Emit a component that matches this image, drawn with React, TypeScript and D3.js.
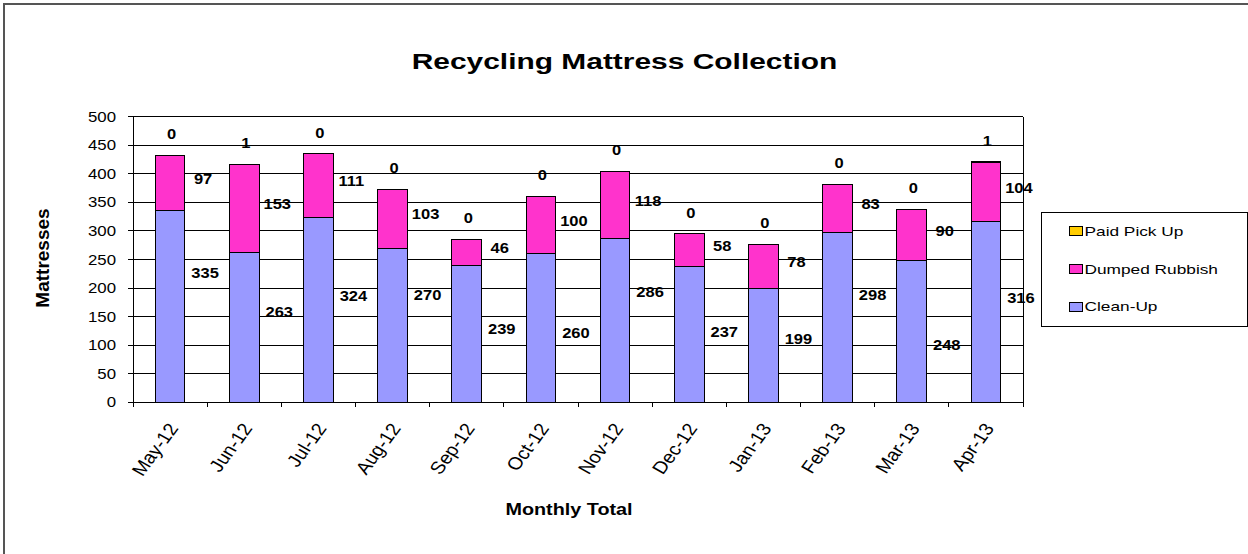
import React from 'react';
import * as d3 from 'd3';

const months = ['May-12', 'Jun-12', 'Jul-12', 'Aug-12', 'Sep-12', 'Oct-12', 'Nov-12', 'Dec-12', 'Jan-13', 'Feb-13', 'Mar-13', 'Apr-13'];
const cleanUp = [335, 263, 324, 270, 239, 260, 286, 237, 199, 298, 248, 316];
const dumpedRubbish = [97, 153, 111, 103, 46, 100, 118, 58, 78, 83, 90, 104];
const paidPickUp = [0, 1, 0, 0, 0, 0, 0, 0, 0, 0, 0, 1];
// where the Clean-Up value labels sit (value units), as placed in the original
const cleanLabelAt = [226, 159, 187, 188, 128, 121, 193, 124, 111, 189, 100, 183];
const yTicks = [0, 50, 100, 150, 200, 250, 300, 350, 400, 450, 500];
const legendNames = ['Paid Pick Up', 'Dumped Rubbish', 'Clean-Up'];

const W = 1248, H = 554;
const plot = { left: 133, right: 1023, top: 116.7, bottom: 402.3 };
const COLORS: Record<string, string> = { clean: '#9999FF', dumped: '#FF33CC', paid: '#FFCC00' };
const FONT = "Arial, 'Liberation Sans', Helvetica, sans-serif";

function T(props: { x: number; y: number; sx?: number; rot?: number; size: number; bold?: boolean; anchor?: string; children: React.ReactNode; }) {
  const { x, y, sx = 1, rot = 0, size, bold, anchor = 'middle', children } = props;
  return (
    <text
      transform={`translate(${x},${y}) scale(${sx},1) rotate(${rot})`}
      fontSize={size}
      fontWeight={bold ? 'bold' : 'normal'}
      fontFamily={FONT}
      textAnchor={anchor}
      dy="0.35em"
      fill="#000"
    >
      {children}
    </text>
  );
}

export default function App() {
  const rows = months.map((m, i) => ({ month: m, clean: cleanUp[i], dumped: dumpedRubbish[i], paid: paidPickUp[i] }));
  const stack = d3.stack<any>().keys(['clean', 'dumped', 'paid'])(rows);

  const x = d3.scaleBand().domain(months).range([plot.left, plot.right]).paddingInner(0).paddingOuter(0);
  const y = d3.scaleLinear().domain([0, 500]).range([plot.bottom, plot.top]);
  const band = x.bandwidth();
  const bw = band * 0.4;
  const cx = (m: string) => (x(m) as number) + band / 2;

  const boundaries = d3.range(months.length + 1).map(i => plot.left + i * band);

  return (
    <svg width={W} height={H} style={{ position: 'absolute', left: 0, top: 0, background: '#fff' }}>
      <rect x={4} y={4} width={1400} height={800} fill="#fff" stroke="#555" strokeWidth={2} />

      {/* Title */}
      <T x={624.5} y={61} size={22.5} bold sx={1.33}>Recycling Mattress Collection</T>

      {/* gridlines */}
      <g shapeRendering="crispEdges">
        {yTicks.map(t => (
          <line key={'g' + t} x1={plot.left} x2={plot.right} y1={y(t)} y2={y(t)} stroke="#000" strokeWidth={1} />
        ))}
        <line x1={plot.right} x2={plot.right} y1={plot.top} y2={plot.bottom} stroke="#000" strokeWidth={1} />
        <line x1={plot.left} x2={plot.left} y1={plot.top} y2={plot.bottom} stroke="#000" strokeWidth={1} />
        {yTicks.map(t => (
          <line key={'yt' + t} x1={plot.left - 5} x2={plot.left} y1={y(t)} y2={y(t)} stroke="#000" strokeWidth={1} />
        ))}
        {boundaries.map((b, i) => (
          <line key={'xt' + i} x1={b} x2={b} y1={plot.bottom} y2={plot.bottom + 5} stroke="#000" strokeWidth={1} />
        ))}
      </g>

      {/* Y tick labels */}
      {yTicks.map(t => (
        <T key={'yl' + t} x={116} y={y(t)} size={14.5} sx={1.16} anchor="end">{t}</T>
      ))}

      {/* bars */}
      <g shapeRendering="crispEdges">
        {stack.map(s => (
          <g key={s.key} fill={COLORS[s.key]} stroke="#000" strokeWidth={1}>
            {s.map((d: any, i: number) => (
              <rect key={i} x={cx(months[i]) - bw / 2} y={y(d[1])} width={bw} height={Math.max(0, y(d[0]) - y(d[1]))} />
            ))}
          </g>
        ))}
      </g>

      {/* value labels */}
      {months.map((m, i) => {
        const c = stack[0][i], d = stack[1][i], p = stack[2][i];
        return (
          <g key={'lab' + i}>
            <T x={cx(m) + 35} y={y(cleanLabelAt[i])} size={15} bold sx={1.1}>{c.data.clean}</T>
            <T x={cx(m) + 33} y={(y(d[0]) + y(d[1])) / 2 - 4.5} size={15} bold sx={1.1}>{d.data.dumped}</T>
            <T x={cx(m) + 1.5} y={y(p[1]) - 21.5} size={15} bold sx={1.1}>{p.data.paid}</T>
          </g>
        );
      })}

      {/* X tick labels */}
      {months.map(m => (
        <T key={'xl' + m} x={cx(m) + 3} y={425} size={17.5} sx={1.15} rot={-57} anchor="end">{m}</T>
      ))}

      {/* axis titles */}
      <T x={569} y={509} size={16.5} bold sx={1.2}>Monthly Total</T>
      <T x={42} y={258} size={19} bold rot={-90}>Mattresses</T>

      {/* legend */}
      <rect x={1041} y={212} width={206} height={114} fill="#fff" stroke="#000" strokeWidth={1} shapeRendering="crispEdges" />
      {legendNames.map((n, i) => {
        const key = ['paid', 'dumped', 'clean'][i];
        const ly = 231 + i * 37.8;
        return (
          <g key={n}>
            <rect x={1069.5} y={ly - 4.5} width={12.5} height={9} fill={COLORS[key]} stroke="#000" strokeWidth={1} shapeRendering="crispEdges" />
            <T x={1084.5} y={ly} size={13.5} sx={1.28} anchor="start">{n}</T>
          </g>
        );
      })}
    </svg>
  );
}
